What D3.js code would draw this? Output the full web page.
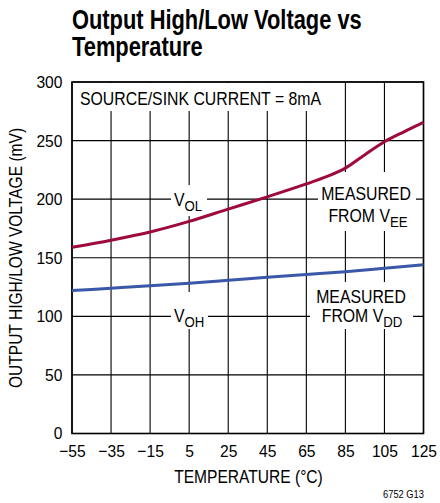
<!DOCTYPE html>
<html><head><meta charset="utf-8">
<script src="https://cdn.jsdelivr.net/npm/d3@7"></script>
<style>body{margin:0;background:#fff}svg{display:block}text{font-family:"Liberation Sans",Arial,sans-serif;fill:#000}</style>
</head><body>
<script>
const temps = [-55,-35,-15,5,25,45,65,75,85,95,105,115,125];
const vol = [159,165,172,181,191.5,202,213,219,226.5,238,249,257.5,265.5];
const tempsOH = [-55,-35,-15,5,25,45,65,85,105,125];
const voh = [122,124,126,128.2,130.7,133.3,135.7,138.1,141,144];
const xTicks = [-55,-35,-15,5,25,45,65,85,105,125];
const yTicks = [0,50,100,150,200,250,300];

const W=440,H=503, L=72, R=423.5, T=82, B=433.5;
const SX=0.88, NSX=0.92;
const svg=d3.select("body").append("svg").attr("width",W).attr("height",H);
const x=d3.scaleLinear().domain([-55,125]).range([L,R]);
const y=d3.scaleLinear().domain([0,300]).range([B,T]);

function txt(xp,yp,str,opt){
  opt=opt||{};
  const g=svg.append("g").attr("transform",`translate(${xp},${yp}) scale(${opt.sx||SX},1)`);
  const t=g.append("text").attr("font-size",opt.fs||18).attr("text-anchor",opt.anchor||"start");
  if(opt.bold) t.attr("font-weight","bold");
  if(opt.rot) g.attr("transform",`translate(${xp},${yp}) rotate(-90) scale(${opt.sx||SX},1)`);
  if(str) t.text(str);
  return t;
}

txt(72,29,"Output High/Low Voltage vs",{fs:27,bold:true,sx:0.81});
txt(72,56,"Temperature",{fs:27,bold:true,sx:0.81});

const g=svg.append("g");
g.selectAll(".vg").data(xTicks).join("line").attr("x1",d=>x(d)).attr("x2",d=>x(d)).attr("y1",T).attr("y2",B).attr("stroke","#000").attr("stroke-width",1.1);
g.selectAll(".hg").data(yTicks).join("line").attr("y1",d=>y(d)).attr("y2",d=>y(d)).attr("x1",L).attr("x2",R).attr("stroke","#000").attr("stroke-width",1.1);

const boxes=[[73,83,323,111],[171,185,207,216],[318,172,416,231],[171,292,208,329],[310,282,413,329]];
g.selectAll(".bx").data(boxes).join("rect").attr("x",d=>d[0]).attr("y",d=>d[1]).attr("width",d=>d[2]-d[0]).attr("height",d=>d[3]-d[1]).attr("fill","#fff");

g.append("rect").attr("x",L).attr("y",T).attr("width",R-L).attr("height",B-T).attr("fill","none").attr("stroke","#000").attr("stroke-width",1.6);

const line=d3.line().x(d=>x(d[0])).y(d=>y(d[1])).curve(d3.curveMonotoneX);
svg.append("path").datum(temps.map((t,i)=>[t,vol[i]])).attr("d",line).attr("fill","none").attr("stroke","#9e0a3c").attr("stroke-width",3);
svg.append("path").datum(tempsOH.map((t,i)=>[t,voh[i]])).attr("d",line).attr("fill","none").attr("stroke","#3a57a8").attr("stroke-width",3);

const xa=svg.append("g").attr("transform",`translate(0,${B})`).call(d3.axisBottom(x).tickValues(xTicks).tickSize(0).tickPadding(0).tickFormat(d=>d<0?"\u2212"+Math.abs(d):d));
xa.select(".domain").remove();
xa.selectAll("text").attr("font-size",17).attr("dy",0).attr("y",24).attr("transform",`scale(${NSX},1)`).attr("font-family",'"Liberation Sans",sans-serif');
const ya=svg.append("g").attr("transform",`translate(${L-9.5},0)`).call(d3.axisLeft(y).tickValues(yTicks).tickSize(0).tickPadding(0));
ya.select(".domain").remove();
ya.selectAll("text").attr("font-size",17).attr("x",0).attr("transform",`scale(${NSX},1)`).attr("font-family",'"Liberation Sans",sans-serif');

txt(248.5,483,"TEMPERATURE (°C)",{fs:17.5,anchor:"middle",sx:0.89});
txt(22,258,"OUTPUT HIGH/LOW VOLTAGE (mV)",{fs:17.5,anchor:"middle",sx:0.89,rot:true});
txt(424,498,"6752 G13",{fs:11,anchor:"end",sx:0.85});

txt(80,105,"SOURCE/SINK CURRENT = 8mA",{fs:18});
function vlab(xp,yp,pre,sub,anchor){
  const t=txt(xp,yp,null,{fs:18,anchor:anchor});
  t.append("tspan").text(pre+"V");
  t.append("tspan").attr("dy",5).attr("font-size",15).text(sub);
}
vlab(174,206,"","OL");
vlab(174,322,"","OH");
txt(366,200,"MEASURED",{fs:18,anchor:"middle"});
vlab(368,222,"FROM ","EE","middle");
txt(361,303,"MEASURED",{fs:18,anchor:"middle"});
vlab(362,322,"FROM ","DD","middle");
</script>
</body></html>
